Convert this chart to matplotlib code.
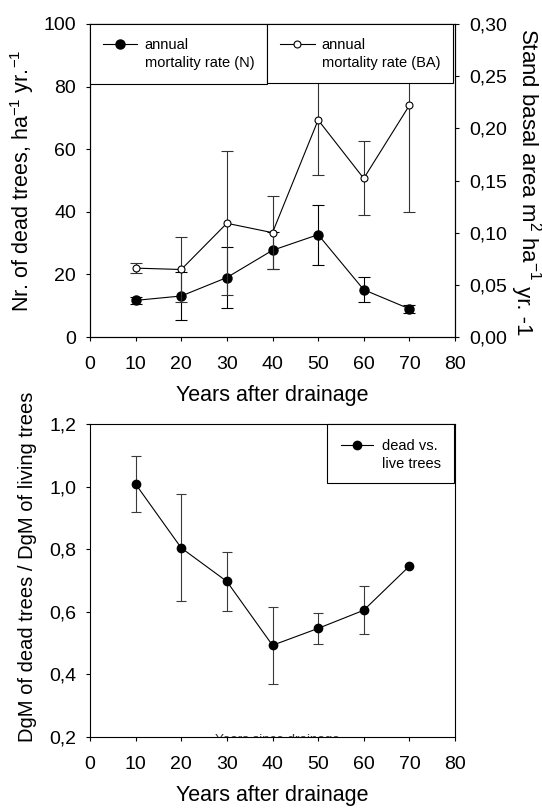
import numpy as np
import matplotlib.pyplot as plt
from matplotlib.patches import Rectangle
from matplotlib.ticker import FuncFormatter, MultipleLocator

plt.rcParams['font.family'] = ['Liberation Sans', 'DejaVu Sans']
plt.rcParams['mathtext.fontset'] = 'custom'
plt.rcParams['mathtext.rm'] = 'Liberation Sans'
plt.rcParams['mathtext.it'] = 'Liberation Sans:italic'
plt.rcParams['mathtext.default'] = 'regular'

# data
years = [10, 20, 30, 40, 50, 60, 70]
n_rate = [11.7, 13.1, 19.0, 27.7, 32.7, 15.1, 9.0]
n_err = [1.2, 7.8, 9.7, 6.0, 9.6, 4.0, 1.2]
ba_rate = [0.066, 0.0647, 0.109, 0.100, 0.208, 0.152, 0.222]
ba_err = [0.005, 0.031, 0.069, 0.035, 0.053, 0.0355, 0.102]
dgm_ratio = [1.008, 0.804, 0.697, 0.493, 0.547, 0.605, 0.746]
dgm_err = [0.090, 0.171, 0.095, 0.123, 0.049, 0.076, np.nan]

W, H = 542, 809
fig = plt.figure(figsize=(W / 100, H / 100), dpi=100)


def box(l, t, r, b):
    return [l / W, 1 - b / H, (r - l) / W, (b - t) / H]


def comma(fmt):
    return FuncFormatter(lambda v, p: format(v, fmt).replace('.', ','))


lw = 0.8
leg_fs = 10.5
ax1 = fig.add_axes(box(90, 24, 455, 337))
ax2 = ax1.twinx()
ax3 = fig.add_axes(box(90, 424, 455, 737))

# ---- top panel
eb1 = ax1.errorbar(years, n_rate, yerr=n_err, fmt='-o', color='k', mfc='k',
                   ms=6.5, lw=lw, ecolor='k', elinewidth=lw, capsize=4,
                   capthick=lw)
eb2 = ax2.errorbar(years, ba_rate, yerr=ba_err, fmt='-o', color='k',
                   mfc='white', mec='k', ms=5, mew=lw, lw=lw, ecolor='#333333',
                   elinewidth=lw, capsize=4, capthick=lw)

ax1.set_xlim(0, 80)
ax1.set_ylim(0, 100)
ax2.set_ylim(0, 0.30)
ax1.xaxis.set_major_locator(MultipleLocator(10))
ax1.yaxis.set_major_locator(MultipleLocator(20))
ax2.yaxis.set_major_locator(MultipleLocator(0.05))
ax2.yaxis.set_major_formatter(comma('.2f'))

ax1.set_xlabel('Years after drainage', fontsize=15.5, labelpad=9)
ax1.set_ylabel(r'Nr. of dead trees, ha$^{-1}$ yr.$^{-1}$', fontsize=15.5)
ax1.yaxis.set_label_coords(-0.148, 0.5)

# legend boxes
ax2.add_patch(Rectangle((0, 0.808), 0.484, 0.192, transform=ax2.transAxes,
                        fc='white', ec='k', lw=lw, zorder=10, clip_on=False))
ax2.add_patch(Rectangle((0.485, 0.811), 0.51, 0.189, transform=ax2.transAxes,
                        fc='white', ec='k', lw=lw, zorder=10, clip_on=False))
leg1 = ax2.legend([eb1[0]], ['annual'], loc='center left',
                  bbox_to_anchor=(0.0364, 0.933), bbox_transform=ax2.transAxes,
                  frameon=False, borderpad=0, borderaxespad=0,
                  handlelength=2.28, handletextpad=0.57, fontsize=leg_fs)
leg1.set_zorder(11)
ax2.add_artist(leg1)
leg2 = ax2.legend([eb2[0]], ['annual'], loc='center left',
                  bbox_to_anchor=(0.5205, 0.933), bbox_transform=ax2.transAxes,
                  frameon=False, borderpad=0, borderaxespad=0,
                  handlelength=2.4, handletextpad=0.45, fontsize=leg_fs)
leg2.set_zorder(11)

# ---- bottom panel
eb3 = ax3.errorbar(years, dgm_ratio, yerr=dgm_err, fmt='-o', color='k',
                   mfc='k', ms=6, lw=lw, ecolor='#3a3a3a', elinewidth=lw,
                   capsize=3.6, capthick=lw)
ax3.set_xlim(0, 80)
ax3.set_ylim(0.2, 1.2)
ax3.xaxis.set_major_locator(MultipleLocator(10))
ax3.yaxis.set_major_locator(MultipleLocator(0.2))
ax3.yaxis.set_major_formatter(comma('.1f'))
ax3.set_xlabel('Years after drainage', fontsize=15.5, labelpad=9)
ax3.set_ylabel('DgM of dead trees / DgM of living trees', fontsize=14.5)
ax3.yaxis.set_label_coords(-0.146, 0.543)
ax3.text(41.1, 0.182, 'Years since drainage', fontsize=9.6, ha='center',
         va='baseline', color='#333333', clip_on=True)
leg3 = ax3.legend([eb3[0]], ['dead vs.'], loc='center left',
                  bbox_to_anchor=(0.688, 0.930), frameon=False, borderpad=0,
                  borderaxespad=0, handlelength=2.2, handletextpad=0.6,
                  fontsize=leg_fs)
leg3.set_zorder(11)
ax3.add_patch(Rectangle((0.649, 0.811), 0.348, 0.189, transform=ax3.transAxes,
                        fc='white', ec='k', lw=lw, zorder=10, clip_on=False))

for ax in (ax1, ax2, ax3):
    for s in ax.spines.values():
        s.set_linewidth(lw)
    ax.tick_params(direction='out', length=3, width=lw, labelsize=14)
    ax.tick_params(axis='x', pad=10.5)
    ax.tick_params(axis='y', pad=7)
ax1.tick_params(right=False, top=False)
ax3.tick_params(right=False, top=False)

# right axis label, "yr. -1" sits a bit lower
t1 = fig.text(521 / W, 1 - 28 / H, r'Stand basal area m$^2$ ha$^{-1}$',
              rotation=270, rotation_mode='anchor', ha='left', va='baseline',
              fontsize=16)
fig.canvas.draw()
bb = t1.get_window_extent()
fig.text(517 / W, bb.y0 / H, ' yr. -1', rotation=270, rotation_mode='anchor',
         ha='left', va='baseline', fontsize=16)

# second line of each legend entry
for leg, second in ((leg1, 'mortality rate (N)'), (leg2, 'mortality rate (BA)'),
                    (leg3, 'live trees')):
    tb = leg.get_texts()[0].get_window_extent()
    fig.text(tb.x0 / W, (tb.y1 - 17.8) / H, second, ha='left', va='top',
             fontsize=leg_fs, zorder=12)

fig.savefig('out.png', dpi=100)
